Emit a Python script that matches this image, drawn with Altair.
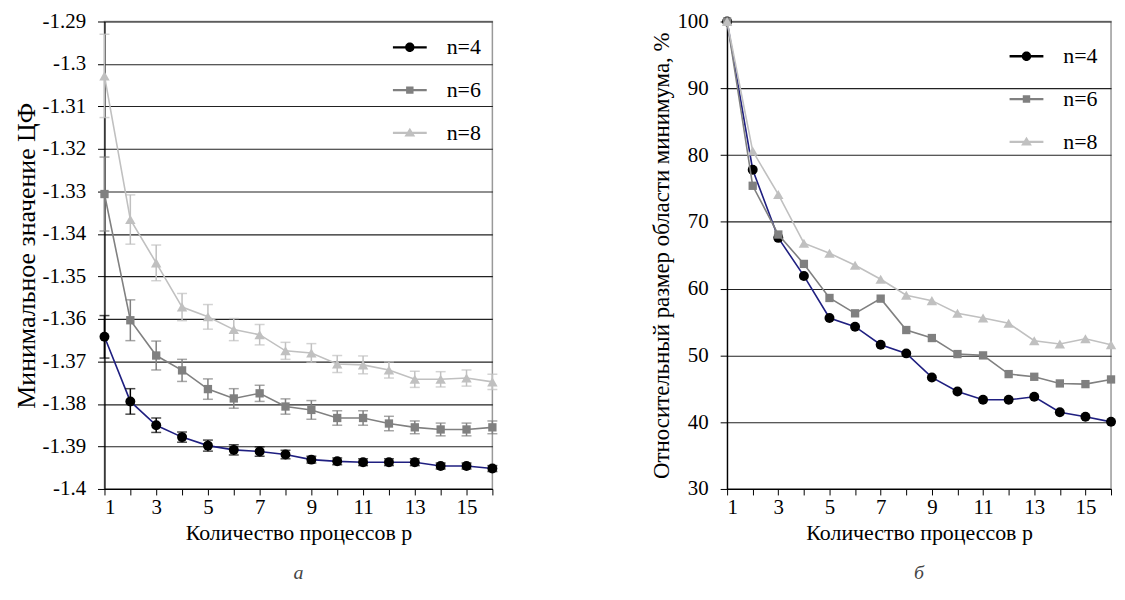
import altair as alt
import pandas as pd

# ---------------- data ----------------
p_values = list(range(1, 17))
series = ["n=4", "n=6", "n=8"]
marker_colors = ["#000000", "#808080", "#c0c0c0"]
line_colors = ["#1f1f80", "#808080", "#c0c0c0"]
shapes = ["circle", "square", "triangle-up"]
marker_sizes = [100, 70, 110]

# left panel: minimal objective value with error bars
left_n4 = [-1.3642, -1.3794, -1.3850, -1.3878, -1.3898, -1.3908, -1.3912, -1.3919,
           -1.3931, -1.3935, -1.3937, -1.3937, -1.3937, -1.3946, -1.3946, -1.3952]
left_n4_err = [0.0050, 0.0030, 0.0017, 0.0012, 0.0013, 0.0012, 0.0011, 0.0010,
               0.0008, 0.0008, 0.0008, 0.0008, 0.0008, 0.0007, 0.0007, 0.0007]
left_n6 = [-1.3306, -1.3603, -1.3686, -1.3721, -1.3765, -1.3787, -1.3775, -1.3806,
           -1.3814, -1.3833, -1.3833, -1.3846, -1.3855, -1.3860, -1.3860, -1.3855]
left_n6_err = [0.0087, 0.0048, 0.0034, 0.0026, 0.0024, 0.0023, 0.0019, 0.0018,
               0.0022, 0.0017, 0.0017, 0.0017, 0.0015, 0.0015, 0.0015, 0.0015]
left_n8 = [-1.3028, -1.3366, -1.3468, -1.3572, -1.3595, -1.3625, -1.3637, -1.3675,
           -1.3680, -1.3706, -1.3708, -1.3720, -1.3742, -1.3742, -1.3739, -1.3748]
left_n8_err = [0.0098, 0.0058, 0.0042, 0.0032, 0.0029, 0.0026, 0.0024, 0.0020,
               0.0022, 0.0020, 0.0021, 0.0019, 0.0019, 0.0018, 0.0019, 0.0018]

# right panel: relative size of minimum region, %
right_n4 = [100, 77.8, 67.6, 61.9, 55.6, 54.3, 51.6, 50.3,
            46.7, 44.6, 43.35, 43.35, 43.8, 41.5, 40.8, 40.05]
right_n6 = [100, 75.4, 68.1, 63.7, 58.6, 56.3, 58.5, 53.8,
            52.6, 50.2, 50.0, 47.2, 46.8, 45.8, 45.7, 46.4]
right_n8 = [100, 80.6, 74.1, 66.8, 65.3, 63.5, 61.4, 59.0,
            58.2, 56.3, 55.6, 54.8, 52.2, 51.7, 52.5, 51.6]

left_ticks = [-1.29, -1.30, -1.31, -1.32, -1.33, -1.34, -1.35, -1.36, -1.37, -1.38, -1.39, -1.40]
right_ticks = [30, 40, 50, 60, 70, 80, 90, 100]

left_title = "Минимальное значение ЦФ"
right_title = "Относительный размер области минимума, %"
x_title = "Количество процессов p"

# ---------------- tables ----------------
rows = []
for s, vals, errs in zip(series, [left_n4, left_n6, left_n8], [left_n4_err, left_n6_err, left_n8_err]):
    for p, v, e in zip(p_values, vals, errs):
        rows.append({"p": p, "n": s, "value": v, "lo": v - e, "hi": v + e})
left_df = pd.DataFrame(rows)

rows = []
for s, vals in zip(series, [right_n4, right_n6, right_n8]):
    for p, v in zip(p_values, vals):
        rows.append({"p": p, "n": s, "value": v})
right_df = pd.DataFrame(rows)

FONT = "Liberation Serif, Times New Roman, Times, serif"
TICK_FS = 21

# legend symbols: line segment + marker (unit square paths)
bar = "M-1,-0.07L1,-0.07L1,0.07L-1,0.07Z"
legend_paths = [
    bar + "M-0.28,0A0.28,0.28 0 1,1 0.28,0A0.28,0.28 0 1,1 -0.28,0Z",
    bar + "M-0.22,-0.22L0.22,-0.22L0.22,0.22L-0.22,0.22Z",
    bar + "M0,-0.3L0.32,0.22L-0.32,0.22Z",
]

x_scale = alt.Scale(domain=[1, 16], nice=False, zero=False)
x_axis = alt.Axis(values=p_values, labelExpr="datum.value % 2 == 1 ? datum.label : ''",
                  grid=False, tickSize=6, tickColor="black", domainColor="black",
                  labelFont=FONT, titleFont=FONT,
                  labelFontSize=TICK_FS, labelPadding=2, titleFontSize=22, titlePadding=5,
                  title=x_title)


def legend_layer(base, y_enc, lx, ly):
    leg = alt.Legend(title=None, orient="none", legendX=lx, legendY=ly,
                     symbolSize=1156, symbolStrokeWidth=0, symbolOpacity=1,
                     labelFont=FONT, labelFontSize=22, labelColor="black",
                     labelOffset=20, rowPadding=15, padding=0)
    return base.mark_point(filled=True, opacity=0).encode(
        x=alt.X("p:Q", scale=x_scale, axis=x_axis),
        y=y_enc,
        shape=alt.Shape("n:N", scale=alt.Scale(domain=series, range=legend_paths), legend=leg),
        color=alt.Color("n:N", scale=alt.Scale(domain=series, range=marker_colors), legend=leg),
    )


def panel(df, y_scale, y_axis, with_err, lx, ly, caption, width):
    base = alt.Chart(df)
    x_enc = alt.X("p:Q", scale=x_scale, axis=x_axis)
    y_enc = alt.Y("value:Q", scale=y_scale, axis=y_axis)
    layers = []
    for s, mc, lc, sh, sz in zip(series, marker_colors, line_colors, shapes, marker_sizes):
        b = base.transform_filter(alt.datum.n == s)
        layers.append(b.mark_line(color=lc, strokeWidth=1.6, clip=False).encode(x=x_enc, y=y_enc))
        if with_err:
            layers.append(b.mark_rule(color=mc, strokeWidth=1.5).encode(
                x=x_enc, y=alt.Y("lo:Q", scale=y_scale), y2="hi:Q"))
            layers.append(b.mark_tick(color=mc, orient="horizontal", size=10, thickness=1.5).encode(
                x=x_enc, y=alt.Y("lo:Q", scale=y_scale)))
            layers.append(b.mark_tick(color=mc, orient="horizontal", size=10, thickness=1.5).encode(
                x=x_enc, y=alt.Y("hi:Q", scale=y_scale)))
        layers.append(b.mark_point(shape=sh, filled=True, color=mc, size=sz, opacity=1, clip=False).encode(
            x=x_enc, y=y_enc))
    layers.append(legend_layer(base, y_enc, lx, ly))
    return alt.layer(*layers).properties(
        width=width, height=470,
        title=alt.TitleParams(caption, orient="bottom", anchor="middle", frame="group",
                              font=FONT, fontSize=20, fontStyle="italic", fontWeight="normal",
                              color="#444444", offset=20),
    )


left_axis = alt.Axis(values=left_ticks,
                     labelExpr="replace(format(datum.value, '.2~f'), '\u2212', '-')",
                     grid=True, gridColor="#222222", gridWidth=1.1,
                     tickSize=7, tickColor="black", domainColor="black",
                     labelFont=FONT, titleFont=FONT,
                     labelFontSize=TICK_FS, labelPadding=12, titleFontSize=26, titlePadding=3,
                     title=left_title)
right_axis = alt.Axis(values=right_ticks, grid=True, gridColor="#222222", gridWidth=1.1,
                      tickSize=7, tickColor="black", domainColor="black",
                      labelFont=FONT, titleFont=FONT,
                      labelFontSize=TICK_FS, labelPadding=12, titleFontSize=23, titlePadding=3,
                      title=right_title)

left = panel(left_df, alt.Scale(domain=[-1.40, -1.29], nice=False, zero=False), left_axis,
             True, 290, 9, "а", 390)
right = panel(right_df, alt.Scale(domain=[30, 100], nice=False, zero=False), right_axis,
              False, 284, 18, "б", 386)

chart = alt.hconcat(left, right, spacing=152).resolve_scale(
    color="independent", shape="independent"
).resolve_legend(
    color="independent", shape="independent"
).properties(
    padding={"left": 4, "top": 0, "right": 0, "bottom": 0}
).configure(
    font=FONT,
).configure_axis(
    labelFont=FONT, titleFont=FONT, labelColor="black", titleColor="black",
    titleFontWeight="normal", domainWidth=1.2,
).configure_legend(labelFont=FONT).configure_view(stroke="#999999", strokeWidth=1.5)

chart.save("out.html", embed_options={"renderer": "svg", "actions": False})
